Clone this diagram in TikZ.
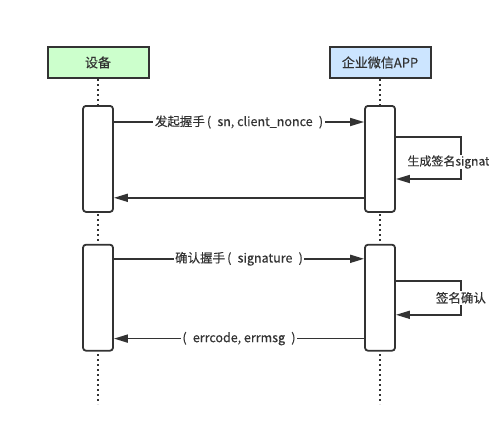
\documentclass[tikz,border=0pt]{standalone}
\usepackage{fontspec}
\setmainfont{Noto Sans CJK SC}[FakeBold=0.3]
\usetikzlibrary{arrows.meta, positioning}
\definecolor{devgreen}{HTML}{CCFFCC}
\definecolor{appblue}{HTML}{CCE5FF}
\definecolor{ink}{HTML}{333333}

\begin{document}
\begin{tikzpicture}[
    x=1pt, y=-1pt,
    actor/.style={rectangle, draw=ink, fill=#1, line width=2pt, minimum width=101pt, minimum height=31pt, inner sep=0pt, font=\fontsize{13}{15}\selectfont, text=ink},
    actor/.default={white},
    act/.style={rectangle, draw=ink, fill=white, rounded corners=3pt, line width=1.8pt, minimum width=30pt, minimum height=106pt, inner sep=0pt},
    msg/.style={-{Triangle[length=14pt, width=8pt]}, line width=1.7pt, draw=ink},
    lifeline/.style={line width=2pt, draw=ink, dash pattern=on 2pt off 3pt},
    lbl/.style={fill=white, inner sep=1.5pt, font=\fontsize{12.5}{14}\selectfont, text=ink},
]
\useasboundingbox (0,0) rectangle (489,439);
\clip (0,0) rectangle (489,439);

% -- Participants --
\node[actor=devgreen] (device) at (98,62.5) {设备};
\node[actor=appblue, right=179pt of device] (wxapp) {企业微信APP};

% -- Lifelines --
\coordinate (bottom) at (0,404);
\draw[lifeline] (device.south) -- (device.south |- bottom);
\draw[lifeline] (wxapp.south) -- (wxapp.south |- bottom);

% -- Activations --
\node[act, below=26pt of device] (devact1) {};
\node[act, below=26pt of wxapp] (appact1) {};
\node[act, below=31pt of devact1] (devact2) {};
\node[act, below=31pt of appact1] (appact2) {};

% -- Handshake --
\draw[msg] ([yshift=-17pt]devact1.north east) -- ([yshift=-17pt]appact1.north west)
    node[lbl, midway] {发起握手\,(\enspace sn, client\_nonce\enspace)};
\draw[msg] ([yshift=-32pt]appact1.north east) -- ++(65,0)
    -- ++(0,42) node[lbl, midway, anchor=east, inner sep=0.5pt, xshift=30pt, yshift=-4pt, font=\fontsize{12}{14}\selectfont] {生成签名signat}
    -- ([yshift=-74pt]appact1.north east);
\draw[msg] ([yshift=15pt]appact1.south west) -- ([yshift=15pt]devact1.south east);

% -- Confirm --
\draw[msg] ([yshift=-15pt]devact2.north east) -- ([yshift=-15pt]appact2.north west)
    node[lbl, midway] {确认握手\,(\enspace signature\enspace)};
\draw[msg] ([yshift=-37pt]appact2.north east) -- ++(65,0)
    -- ++(0,34) node[lbl, midway] {签名确认}
    -- ([yshift=-71pt]appact2.north east);
\draw[msg] ([yshift=13pt]appact2.south west) -- ([yshift=13pt]devact2.south east)
    node[lbl, midway] {(\enspace errcode, errmsg\enspace)};

\end{tikzpicture}
\end{document}
